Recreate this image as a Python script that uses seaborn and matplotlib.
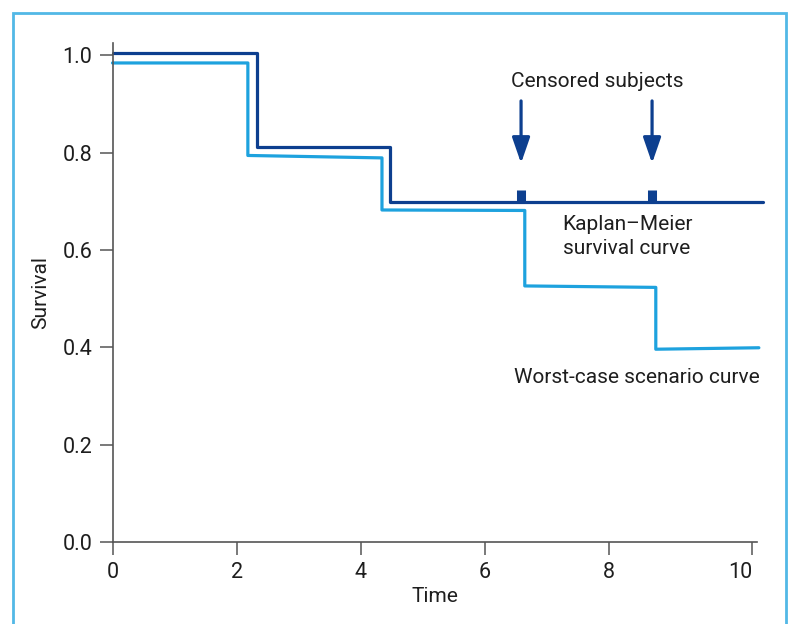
import matplotlib
matplotlib.use("Agg")
import matplotlib.pyplot as plt
import seaborn as sns
import pandas as pd
from matplotlib.patches import Rectangle

# ---- data ----
km_time = [0, 2.32, 2.32, 4.47, 4.47, 10.47]
km_surv = [1.005, 1.005, 0.812, 0.812, 0.698, 0.698]

worst_time = [0, 2.18, 2.18, 4.34, 4.34, 6.64, 6.64, 8.75, 8.75, 10.41]
worst_surv = [0.984, 0.984, 0.794, 0.789, 0.682, 0.681, 0.526, 0.523, 0.396, 0.399]

censor_times = [6.58, 8.69]
censor_level = 0.698

x_ticks = [0, 2, 4, 6, 8, 10.3]
x_tick_labels = ["0", "2", "4", "6", "8", "10"]
y_ticks = [0.0, 0.2, 0.4, 0.6, 0.8, 1.0]
y_tick_labels = ["0.0", "0.2", "0.4", "0.6", "0.8", "1.0"]

NAVY = "#0d3f8f"
LIGHT = "#1ea2de"
BORDER = "#52b8e6"
TEXT = "#1e1e1e"
SPINE = "#555555"

sns.set_theme(style="ticks")
plt.rcParams["font.family"] = ["Roboto", "DejaVu Sans"]

fig = plt.figure(figsize=(7.9, 6.24), dpi=100)
ax = fig.add_axes([112.5 / 790, 82 / 624, (757 - 112.5) / 790, (542 - 43) / 624])

km_df = pd.DataFrame({"time": km_time, "surv": km_surv})
worst_df = pd.DataFrame({"time": worst_time, "surv": worst_surv})

sns.lineplot(data=worst_df, x="time", y="surv", sort=False, estimator=None,
             color=LIGHT, linewidth=2.3, ax=ax, clip_on=False)
sns.lineplot(data=km_df, x="time", y="surv", sort=False, estimator=None,
             color=NAVY, linewidth=2.3, ax=ax, clip_on=False)

# censor marks
ax.vlines(censor_times, censor_level, censor_level + 0.026, colors=NAVY,
          linewidth=6.5, zorder=5)

# arrows
for t in censor_times:
    ax.annotate("", xy=(t, 0.778), xytext=(t, 0.906),
                arrowprops=dict(arrowstyle="-|>,head_length=1.3,head_width=0.45",
                                color=NAVY, lw=2.3, shrinkA=0, shrinkB=0))

fs = 15
ax.text(7.8, 0.945, "Censored subjects", ha="center", va="center",
        fontsize=fs, color=TEXT)
ax.text(7.25, 0.628, "Kaplan\u2013Meier\nsurvival curve", ha="left", va="center",
        fontsize=fs, color=TEXT, linespacing=1.3)
ax.text(6.46, 0.337, "Worst-case scenario curve", ha="left", va="center",
        fontsize=fs, color=TEXT)

ax.set_xlim(0, 10.38)
ax.set_ylim(0, 1.025)
ax.set_xticks(x_ticks)
ax.set_xticklabels(x_tick_labels)
ax.set_yticks(y_ticks)
ax.set_yticklabels(y_tick_labels)
ax.tick_params(axis="both", direction="out", length=9.5, width=1.1,
               color=SPINE, labelsize=fs + 0.5, labelcolor=TEXT, pad=5)
ax.get_xticklabels()[-1].set_horizontalalignment("right")
ax.set_xlabel("Time", fontsize=fs, color=TEXT, labelpad=3)
ax.set_ylabel("Survival", fontsize=fs, color=TEXT, labelpad=9)

sns.despine(ax=ax)
for s in ["left", "bottom"]:
    ax.spines[s].set_color(SPINE)
    ax.spines[s].set_linewidth(1.2)

# figure border
fig.patches.append(Rectangle((13 / 790, -0.05), (786 - 13) / 790, (624 - 13) / 624 + 0.05,
                             transform=fig.transFigure, fill=False,
                             edgecolor=BORDER, linewidth=2.0, zorder=0))

fig.savefig("out.png", dpi=100)
